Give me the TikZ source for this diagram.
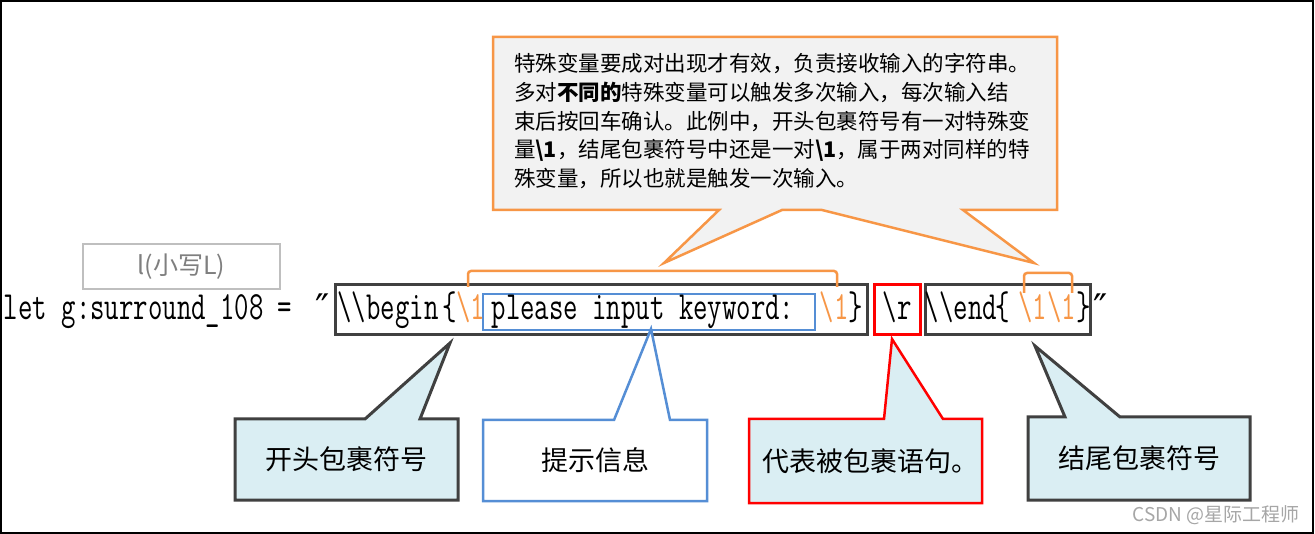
\documentclass[tikz,border=0pt]{standalone}
\usepackage{fontspec}
\usepackage{graphicx}
\newfontfamily\cjk{Noto Sans CJK SC}
\newfontfamily\djv{DejaVu Sans}
\setmonofont{Latin Modern Mono}
\definecolor{orng}{HTML}{F79646}
\definecolor{calfill}{HTML}{F2F2F2}
\definecolor{lblue}{HTML}{DAEEF3}
\definecolor{dgray}{HTML}{404040}
\definecolor{bblue}{HTML}{558ED5}
\definecolor{lgray}{HTML}{BFBFBF}
\definecolor{tgray}{HTML}{7F7F7F}
\definecolor{wmgray}{HTML}{A6A6A6}
\newcommand\bsl{\textbackslash}
\newcommand\codeset[1]{\scalebox{0.70}[1]{\ttfamily\fontsize{40}{40}\selectfont #1}}
\newcommand\dprime{{\djv\fontsize{38}{38}\selectfont ″}}
\begin{document}
\begin{tikzpicture}[x=1pt,y=-1pt,
  codetxt/.style={inner sep=0pt, outer sep=0pt, anchor=base},
  hlbox/.style={draw, line width=3pt, minimum height=50pt, inner sep=0pt},
  calltop/.style={draw=orng, fill=calfill, line width=2.5pt, line join=miter},
  calldark/.style={draw=dgray, fill=lblue, line width=3pt},
  callblue/.style={draw=bblue, fill=white, line width=2.5pt},
  callred/.style={draw=red, fill=lblue, line width=2.5pt},
  topline/.style={inner sep=0pt, anchor=base west, font=\cjk\fontsize{21.5}{28.6}\selectfont},
  calltext/.style={inner sep=0pt, font=\cjk\fontsize{27}{30}\selectfont},
  bracket/.style={draw=orng, line width=2.5pt, rounded corners=3pt}
]
\useasboundingbox (0,0) rectangle (1315,534);
\fill[white] (0,0) rectangle (1315,534);
\draw[line width=2pt] (1,1) rectangle (1313,533);

% top callout
\draw[calltop] (493,37) -- (1057,37) -- (1057,210) -- (963,210) -- (1034,263) -- (822,210)
  -- (782,210) -- (664,263) -- (719,210) -- (493,210) -- cycle;
\node[topline] (t1) at (514,72) {特殊变量要成对出现才有效，负责接收输入的字符串。};
\node[topline] (t2) at (514,100.6) {多对{\bfseries 不同的}特殊变量可以触发多次输入，每次输入结};
\node[topline] (t3) at (514,129.2) {束后按回车确认。此例中，开头包裹符号有一对特殊变};
\node[topline] (t4) at (514,157.8) {量{\bfseries\bsl 1}，结尾包裹符号中还是一对{\bfseries\bsl 1}，属于两对同样的特};
\node[topline] (t5) at (514,186.4) {殊变量，所以也就是触发一次输入。};

% gray label box
\node[draw=lgray, line width=2pt, minimum width=197pt, minimum height=45pt, inner sep=0pt,
  text=tgray, font=\cjk\fontsize{25}{28}\selectfont] (lbl) at (181.5,266.5) {l(小写L)};

% highlight boxes
\node[hlbox, draw=dgray, minimum width=532pt] (b1) at (601,310) {};
\node[hlbox, draw=bblue, line width=2.5pt, minimum width=332pt, minimum height=36pt] (b2) at (649,312) {};
\node[hlbox, draw=red, minimum width=46pt] (b3) at (897,310) {};
\node[hlbox, draw=dgray, minimum width=165pt] (b4) at (1007.5,310) {};

% orange brackets
\draw[bracket] (468,287) -- (468,271) -- (837,271) -- (837,287);
\draw[bracket] (1024,293) -- (1024,273) -- (1072,273) -- (1072,293);

% code line
\node[codetxt, anchor=base west] (c0) at (4,320) {\codeset{let g:surround\_108 =}};
\node[codetxt] (q1) at (323,322) {\dprime};
\node[codetxt] (c1) at (388,320) {\codeset{\bsl\bsl begin}};
\node[codetxt] (c2) at (450,320) {\codeset{\{}};
\node[codetxt, text=orng] (c3) at (470.5,320) {\codeset{\bsl 1}};
\node[codetxt] (c4) at (643,320) {\codeset{please input keyword:}};
\node[codetxt, text=orng] (c5) at (834,320) {\codeset{\bsl 1}};
\node[codetxt] (c6) at (856,320) {\codeset{\}}};
\node[codetxt] (c7) at (897,320) {\codeset{\bsl r}};
\node[codetxt] (c8) at (961,320) {\codeset{\bsl\bsl end}};
\node[codetxt] (c9) at (1002.5,320) {\codeset{\{}};
\node[codetxt, text=orng] (c10) at (1047,320) {\codeset{\bsl 1\bsl 1}};
\node[codetxt] (c11) at (1084,320) {\codeset{\}}};
\node[codetxt] (q2) at (1101,322) {\dprime};

% bottom callouts
\draw[calldark] (235,419) -- (365,419) -- (450,343) -- (420,419) -- (458,419) -- (458,500) -- (235,500) -- cycle;
\node[calltext] (n1) at (346.5,459.5) {开头包裹符号};
\draw[callblue] (483,420) -- (614,420) -- (651,329) -- (670,420) -- (707,420) -- (707,501) -- (483,501) -- cycle;
\node[calltext] (n2) at (595,460.5) {提示信息};
\draw[callred] (749,419) -- (884,419) -- (892,339) -- (943,419) -- (982,419) -- (982,503) -- (749,503) -- cycle;
\node[calltext] (n3) at (870,461) {代表被包裹语句。};
\draw[calldark] (1028,417) -- (1065,417) -- (1035,346) -- (1120,417) -- (1250,417) -- (1250,500) -- (1028,500) -- cycle;
\node[calltext] (n4) at (1139,458.5) {结尾包裹符号};

% watermark
\node[inner sep=0pt, anchor=east, text=wmgray, font=\cjk\fontsize{19}{22}\selectfont] (wm) at (1300,515) {CSDN @星际工程师};
\end{tikzpicture}
\end{document}
